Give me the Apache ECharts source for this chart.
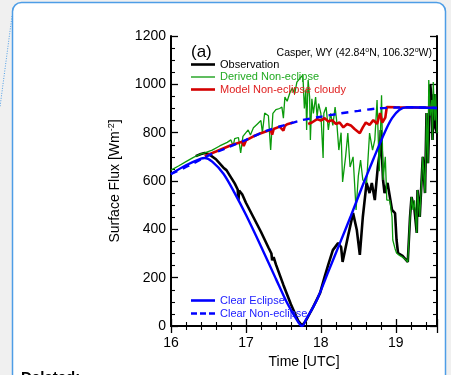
<!DOCTYPE html>
<html>
<head>
<meta charset="utf-8">
<script src="https://cdn.jsdelivr.net/npm/echarts@6/dist/echarts.min.js"></script>
<style>
html,body{margin:0;padding:0;background:#f0f0f0;}
#c{width:451px;height:375px;}
</style>
</head>
<body>
<div id="c"></div>
<script>
// ---- data (time in UTC hours, flux in W m^-2) ----
const xTicks = [16, 17, 18, 19];
const yTicks = [0, 200, 400, 600, 800, 1000, 1200];

const observation = [
  [16.33,703],[16.4,712],[16.45,716],[16.5,712],[16.6,690],[16.7,655],[16.74,645],[16.76,642],[16.8,615],
  [16.85,590],[16.89,565],[16.9,522],[16.91,560],[16.95,545],[17.0,510],[17.1,450],[17.2,390],
  [17.3,325],[17.34,300],[17.35,272],[17.37,285],[17.4,255],[17.5,170],[17.6,90],[17.7,20],
  [17.75,2],[17.8,22],[17.9,80],[17.99,137],[18.05,203],[18.1,255],[18.16,314],[18.23,343],
  [18.27,327],[18.29,265],[18.36,368],[18.43,467],[18.48,397],[18.52,294],[18.56,451],
  [18.61,592],[18.65,550],[18.68,592],[18.72,521],[18.76,658],[18.79,728],[18.8,811],
  [18.83,604],[18.85,550],[18.89,592],[18.95,480],[18.99,467],[19.01,356],[19.03,302],
  [19.09,290],[19.16,265],[19.19,451],[19.21,534],[19.25,480],[19.28,385],[19.29,563],
  [19.32,451],[19.36,700],[19.39,550],[19.41,881],[19.43,674],[19.46,1000],[19.48,935],
  [19.49,770],[19.51,960],[19.53,820],[19.55,798]
];

const derivedNonEclipse = [
  [16.0,645],[16.1,662],[16.2,680],[16.3,698],[16.4,712],[16.45,716],[16.55,728],[16.65,745],
  [16.75,760],[16.8,770],[16.83,745],[16.85,775],[16.9,780],[16.93,716],[16.96,785],[17.0,800],
  [17.03,811],[17.06,790],[17.1,820],[17.15,835],[17.2,850],[17.22,800],[17.25,881],[17.3,870],
  [17.33,728],[17.36,880],[17.4,895],[17.45,900],[17.48,906],[17.5,860],[17.52,947],[17.55,930],
  [17.59,968],[17.62,985],[17.65,960],[17.68,1009],[17.72,1025],[17.76,1038],[17.78,900],
  [17.8,976],[17.81,811],[17.83,1018],[17.85,947],[17.86,770],[17.88,940],[17.9,880],
  [17.93,947],[17.95,865],[17.97,920],[18.0,880],[18.03,695],[18.04,880],[18.07,906],
  [18.1,811],[18.13,880],[18.16,830],[18.19,906],[18.21,852],[18.24,728],[18.27,800],
  [18.29,596],[18.33,700],[18.36,798],[18.39,658],[18.43,700],[18.47,480],[18.5,620],
  [18.53,687],[18.56,604],[18.61,592],[18.65,798],[18.69,728],[18.72,770],[18.75,935],
  [18.78,640],[18.81,955],[18.83,604],[18.86,700],[18.88,521],[18.92,521],[18.95,451],
  [18.96,356],[18.99,320],[19.01,302],[19.05,292],[19.09,285],[19.13,275],[19.16,265],
  [19.19,451],[19.21,534],[19.23,480],[19.25,520],[19.28,385],[19.29,563],[19.32,451],
  [19.36,700],[19.39,550],[19.41,881],[19.43,674],[19.44,1018],[19.46,870],[19.48,935],
  [19.49,770],[19.5,1010],[19.52,850],[19.53,960],[19.55,798]
];

const modelNonEclipseCloudy = [
  [16.45,703],[16.6,722],[16.8,748],[16.95,762],[16.97,745],[17.0,768],[17.1,785],[17.2,798],
  [17.33,812],[17.35,792],[17.37,815],[17.45,825],[17.5,808],[17.52,828],[17.55,835],[17.63,842],
  null,
  [17.83,836],[17.88,842],[17.95,856],[18.0,850],[18.05,860],[18.1,846],[18.15,852],[18.2,836],
  [18.25,842],[18.3,822],[18.35,836],[18.4,830],[18.45,815],[18.52,798],[18.56,822],[18.6,842],
  [18.65,832],[18.7,852],[18.75,836],[18.79,881],[18.82,842],[18.86,862],[18.88,906],[19.0,905],
  [19.5,903]
];

const clearEclipse = [
  [16.0,629],[16.2,665],[16.4,693],[16.45,695],[16.55,680],[16.7,630],[16.85,550],[17.0,460],
  [17.2,330],[17.4,195],[17.55,95],[17.7,15],[17.75,0],[17.8,25],[17.95,110],[18.1,225],
  [18.25,340],[18.4,455],[18.55,575],[18.7,690],[18.85,800],[18.95,860],[19.05,895],
  [19.15,905],[19.55,902]
];

const clearNonEclipse = [
  [16.0,629],[16.25,665],[16.45,698],[16.75,738],[17.0,770],[17.25,805],[17.5,830],
  [17.75,852],[18.0,866],[18.25,879],[18.5,890],[18.75,900],[19.0,904],[19.25,905],[19.55,902]
];

// ---- chart ----
const el = document.getElementById('c');
const chart = echarts.init(el, null, {renderer: 'canvas'});
const FONT = 'Liberation Sans, Arial, Helvetica, sans-serif';
const BLUE = '#0000ff', GREEN = '#0a9a0a', RED = '#d40000';
const ICON_THICK = 'path://M0,0h24v2.6h-24z';
const ICON_THIN = 'path://M0,0h24v1.3h-24z';
const ICON_DASH = 'path://M0,0h6v2.4h-6z M9,0h6v2.4h-6z M18,0h6v2.4h-6z';

function axisCommon() {
  return {
    axisLine: {show: true, lineStyle: {color: '#000', width: 2}},
    axisTick: {show: true, inside: true, length: 7, lineStyle: {color: '#000', width: 1.3}},
    minorTick: {show: true, length: 4, lineStyle: {color: '#000', width: 1.1}},
    splitLine: {show: false}
  };
}

const option = {
  animation: false,
  backgroundColor: 'transparent',
  graphic: [
    {type: 'rect', z: -10, shape: {x: 12.5, y: 2.5, width: 433, height: 420, r: 9},
     style: {fill: '#ffffff', stroke: '#4d9de6', lineWidth: 1.5}},
    {type: 'line', z: -10, shape: {x1: 12, y1: 16, x2: 0, y2: 107},
     style: {stroke: '#4d9de6', lineWidth: 1, lineDash: [1, 1.5]}},
    {type: 'text', left: 21, top: 370, z: 10,
     style: {text: 'Deleted:', font: 'bold 15px ' + FONT, fill: '#000'}}
  ],
  title: [
    {text: '(a)', left: 186, top: 39,
     textStyle: {fontFamily: FONT, fontSize: 17, fontWeight: 'normal', color: '#000'}},
    {text: '{t|Casper, WY (42.84}{s|o}{t|N, 106.32}{s|o}{t|W)}', right: 14, top: 42,
     textStyle: {fontWeight: 'normal', rich: {
       t: {fontFamily: FONT, fontSize: 10.5, fontWeight: 'normal', color: '#000'},
       s: {fontFamily: FONT, fontSize: 7, fontWeight: 'normal', color: '#000', verticalAlign: 'bottom', padding: [0,0,6,0]}
     }}}
  ],
  legend: [
    {left: 186, top: 54, orient: 'vertical', itemGap: 1.5, itemWidth: 24, itemHeight: 11,
     textStyle: {fontFamily: FONT, fontSize: 11}, selectedMode: false,
     data: [
       {name: 'Observation', icon: ICON_THICK, textStyle: {color: '#000'}},
       {name: 'Derived Non-eclipse', icon: ICON_THIN, textStyle: {color: '#22aa22'}},
       {name: 'Model Non-eclipse cloudy', icon: ICON_THICK, textStyle: {color: '#e02020'}}
     ]},
    {left: 186, top: 290, orient: 'vertical', itemGap: 2, itemWidth: 24, itemHeight: 11,
     textStyle: {fontFamily: FONT, fontSize: 11}, selectedMode: false,
     data: [
       {name: 'Clear Eclipse', icon: ICON_THICK, textStyle: {color: '#2020ff'}},
       {name: 'Clear Non-eclipse', icon: ICON_DASH, textStyle: {color: '#2020ff'}}
     ]}
  ],
  grid: {left: 171, top: 36, width: 266, height: 290, containLabel: false},
  xAxis: [
    Object.assign(axisCommon(), {
      type: 'value', min: 16, max: 19.55, interval: 1,
      minorTick: {show: true, splitNumber: 5, length: 4, lineStyle: {color: '#000', width: 1.1}},
      axisLabel: {show: true, margin: 10, fontFamily: FONT, fontSize: 14, color: '#000',
        showMaxLabel: false,
        formatter: v => xTicks.includes(v) ? String(v) : ''},
      name: 'Time [UTC]', nameLocation: 'middle', nameGap: 28,
      nameTextStyle: {fontFamily: FONT, fontSize: 14, color: '#000'}
    }),
    Object.assign(axisCommon(), {
      type: 'value', min: 16, max: 19.55, interval: 1, position: 'top',
      minorTick: {show: true, splitNumber: 5, length: 4, lineStyle: {color: '#000', width: 1.1}},
      axisLabel: {show: false}
    })
  ],
  yAxis: [
    Object.assign(axisCommon(), {
      type: 'value', min: 0, max: 1200, interval: 200,
      minorTick: {show: true, splitNumber: 4, length: 4, lineStyle: {color: '#000', width: 1.1}},
      axisLabel: {show: true, margin: 5, fontFamily: FONT, fontSize: 14, color: '#000',
        formatter: v => yTicks.includes(v) ? String(v) : ''},
      name: '{a|Surface Flux [Wm}{s|-2}{a|]}', nameLocation: 'middle', nameGap: 47, nameRotate: 90,
      nameTextStyle: {rich: {
        a: {fontFamily: FONT, fontSize: 14, color: '#000'},
        s: {fontFamily: FONT, fontSize: 9, color: '#000', verticalAlign: 'bottom', padding: [0,0,8,0]}
      }}
    }),
    Object.assign(axisCommon(), {
      type: 'value', min: 0, max: 1200, interval: 200, position: 'right',
      minorTick: {show: true, splitNumber: 4, length: 4, lineStyle: {color: '#000', width: 1.1}},
      axisLabel: {show: false}
    })
  ],
  series: [
    {name: 'Observation', type: 'line', data: observation, symbol: 'none', z: 2,
     lineStyle: {color: '#000', width: 2.6}, itemStyle: {color: '#000'}, connectNulls: false},
    {name: 'Derived Non-eclipse', type: 'line', data: derivedNonEclipse, symbol: 'none', z: 3,
     lineStyle: {color: GREEN, width: 1.3}, itemStyle: {color: GREEN}},
    {name: 'Model Non-eclipse cloudy', type: 'line', data: modelNonEclipseCloudy, symbol: 'none', z: 4,
     lineStyle: {color: RED, width: 2.6}, itemStyle: {color: RED}, connectNulls: false},
    {name: 'Clear Eclipse', type: 'line', data: clearEclipse, symbol: 'none', z: 5, smooth: 0.3,
     lineStyle: {color: BLUE, width: 2.4}, itemStyle: {color: BLUE}},
    {name: 'Clear Non-eclipse', type: 'line', data: clearNonEclipse, symbol: 'none', z: 6, smooth: 0.3,
     lineStyle: {color: BLUE, width: 2.4, type: [7, 6]}, itemStyle: {color: BLUE}}
  ]
};
chart.setOption(option);
</script>
</body>
</html>
